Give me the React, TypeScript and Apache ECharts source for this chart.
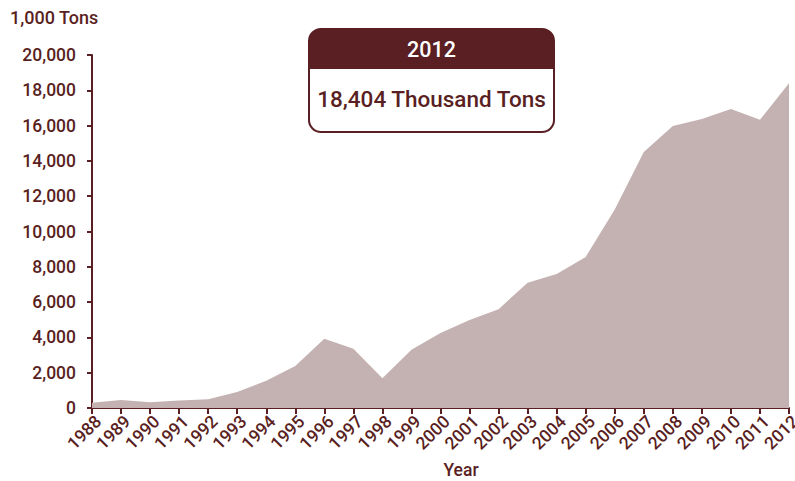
import React, { useEffect, useRef } from "react";
import * as echarts from "echarts";

const years = ["1988","1989","1990","1991","1992","1993","1994","1995","1996","1997","1998","1999","2000","2001","2002","2003","2004","2005","2006","2007","2008","2009","2010","2011","2012"];
const values = [300, 450, 330, 430, 500, 900, 1550, 2380, 3930, 3350, 1680, 3300, 4250, 4980, 5600, 7100, 7590, 8560, 11250, 14500, 15980, 16370, 16940, 16330, 18404];
const yTicks = { min: 0, max: 20000, interval: 2000 };

const MAROON = "#5a1f22";
const FILL = "#c4b1b1";
const FONT = "Roboto";

export default function App() {
  const ref = useRef<HTMLDivElement>(null);
  useEffect(() => {
    const chart = echarts.init(ref.current!, null, { renderer: "svg" });
    const lastYear = years[years.length - 1];
    const lastVal = values[values.length - 1];
    chart.setOption({
      animation: false,
      textStyle: { fontFamily: FONT },
      grid: { left: 92, right: 6, top: 55, bottom: 73, containLabel: false, outerBoundsMode: "none" },
      xAxis: {
        type: "category",
        data: years,
        boundaryGap: false,
        axisLine: { lineStyle: { color: MAROON, width: 2 } },
        axisTick: { length: 6, lineStyle: { color: MAROON, width: 2 } },
        axisLabel: { rotate: 45, color: MAROON, fontSize: 17.5, fontWeight: 500, fontFamily: FONT, margin: 4, interval: 0, verticalAlign: "top" },
        splitLine: { show: false },
      },
      yAxis: {
        type: "value",
        min: yTicks.min,
        max: yTicks.max,
        interval: yTicks.interval,
        axisLine: { show: true, lineStyle: { color: MAROON, width: 2 } },
        axisTick: { show: true, length: 5, lineStyle: { color: MAROON, width: 2 } },
        axisLabel: {
          color: MAROON,
          fontSize: 17.5,
          fontWeight: 500,
          fontFamily: FONT,
          margin: 16,
          formatter: (v: number) => v.toLocaleString("en-US"),
        },
        splitLine: { show: false },
      },
      series: [
        {
          type: "line",
          data: values,
          symbol: "none",
          smooth: false,
          lineStyle: { width: 0 },
          areaStyle: { color: FILL, opacity: 1 },
        },
      ],
      graphic: [
        {
          type: "text",
          left: 10,
          top: 8,
          style: { text: "1,000 Tons", fill: MAROON, fontSize: 18, fontWeight: 500, fontFamily: FONT },
        },
        {
          type: "text",
          x: 461,
          y: 470,
          style: { text: "Year", fill: MAROON, fontSize: 17.5, fontWeight: 500, fontFamily: FONT, align: "center", verticalAlign: "middle" },
        },
        {
          type: "group",
          left: 308,
          top: 28,
          children: [
            { type: "rect", shape: { x: 0, y: 0, width: 245, height: 103, r: 12 }, style: { fill: "#fff", stroke: MAROON, lineWidth: 2 } },
            { type: "rect", shape: { x: 0, y: 0, width: 245, height: 40, r: [12, 12, 0, 0] }, style: { fill: MAROON } },
            { type: "text", x: 122.5, y: 20, style: { text: lastYear, fill: "#fff", fontSize: 21.5, fontWeight: 500, fontFamily: FONT, align: "center", verticalAlign: "middle" } },
            { type: "text", x: 122.5, y: 70, style: { text: lastVal.toLocaleString("en-US") + " Thousand Tons", fill: MAROON, fontSize: 22.5, fontWeight: 500, fontFamily: FONT, align: "center", verticalAlign: "middle" } },
          ],
        },
      ],
    });
    return () => chart.dispose();
  }, []);
  return <div ref={ref} style={{ width: 795, height: 481, position: "absolute", left: 0, top: 0 }} />;
}
